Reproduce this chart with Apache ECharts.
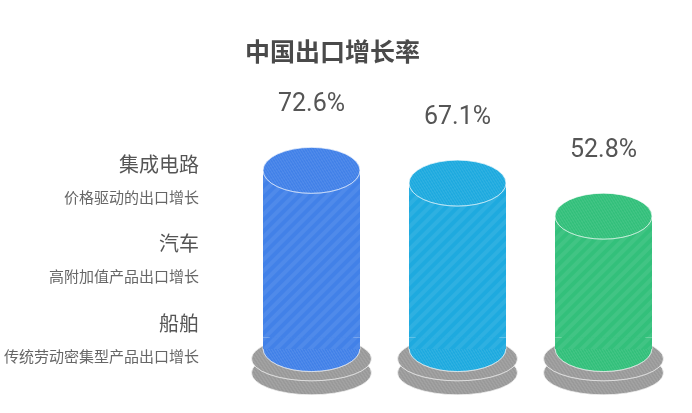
<!DOCTYPE html>
<html>
<head>
<meta charset="utf-8">
<script src="https://cdn.jsdelivr.net/npm/echarts@6/dist/echarts.min.js"></script>
<style>html,body{margin:0;padding:0;background:#fff}#c{width:692px;height:413px}</style>
</head>
<body>
<div id="c"></div>
<script>
const titleText = '中国出口增长率';
const categories = ['集成电路', '汽车', '船舶'];
const descriptions = ['价格驱动的出口增长', '高附加值产品出口增长', '传统劳动密集型产品出口增长'];
const values = [72.6, 67.1, 52.8];
const colors = ['#4281E8', '#1EAADF', '#33C07B'];

const BASE_EXT = -5; // visual extension of the cylinder body below zero
const decalStripe = { symbol: 'rect', symbolSize: 1, dashArrayX: [1, 0], dashArrayY: [3.5, 3.5], rotation: -Math.PI / 4, color: 'rgba(255,255,255,0.07)' };
const grayDecal = Object.assign({}, decalStripe, { color: 'rgba(255,255,255,0.09)' });

const chart = echarts.init(document.getElementById('c'), null, { renderer: 'canvas' });

function colored(arr) {
  return arr.map((v, i) => ({ value: v, itemStyle: { color: colors[i], decal: decalStripe } }));
}

const option = {
  animation: false,
  title: {
    text: titleText,
    left: 240, top: 34,
    textStyle: { fontSize: 25, fontWeight: 'bold', color: '#4a4a4a', fontFamily: 'Noto Sans CJK SC' }
  },
  grid: [
    { left: 238.5, right: 15.5, top: 117.7, bottom: 64 },
    { left: 207, width: 1, top: 140.75, bottom: 33.75 }
  ],
  xAxis: [
    { type: 'category', data: categories, gridIndex: 0, show: false },
    { type: 'value', gridIndex: 1, show: false }
  ],
  yAxis: [
    { type: 'value', gridIndex: 0, min: -5, max: 95, show: false },
    {
      type: 'category', gridIndex: 1, data: categories, inverse: true,
      axisLine: { show: false }, axisTick: { show: false }, splitLine: { show: false },
      axisLabel: {
        margin: 8,
        formatter: (v, i) => '{a|' + v + '}\n{b|' + descriptions[i] + '}',
        rich: {
          a: { fontSize: 20, lineHeight: 33, color: '#555', fontFamily: 'Noto Sans CJK SC', align: 'right' },
          b: { fontSize: 15, lineHeight: 33, color: '#666', fontFamily: 'Noto Sans CJK SC', align: 'right' }
        }
      }
    }
  ],
  series: [
    {
      type: 'pictorialBar', name: 'ringLow', symbol: 'circle', symbolSize: [120, 44],
      symbolPosition: 'start', symbolOffset: [0, 58], barGap: '-100%', z: 1,
      itemStyle: { color: '#999', borderColor: '#fff', borderWidth: 2, decal: grayDecal },
      data: values, silent: true
    },
    {
      type: 'pictorialBar', name: 'ringHigh', symbol: 'circle', symbolSize: [120, 44],
      symbolPosition: 'start', symbolOffset: [0, 44], barGap: '-100%', z: 2,
      itemStyle: { color: '#999', borderColor: '#fff', borderWidth: 2, decal: grayDecal },
      data: values, silent: true
    },
    {
      type: 'pictorialBar', name: 'bodyBottom', symbol: 'circle', symbolSize: [97, 46],
      symbolPosition: 'start', symbolOffset: [0, 35], barGap: '-100%', z: 3,
      itemStyle: { borderColor: '#fff', borderWidth: 2.5 },
      data: colored(values), silent: true
    },
    {
      type: 'bar', name: 'body', barWidth: 97, barGap: '-100%', z: 4,
      data: colored(values),
      label: {
        show: true, position: 'top', distance: 52,
        formatter: p => p.value + '%',
        fontSize: 25, color: '#555', fontFamily: 'Roboto'
      }
    },
    {
      type: 'bar', name: 'bodyExt', barWidth: 97, barGap: '-100%', z: 4,
      data: colored(values.map(() => BASE_EXT)), silent: true
    },
    {
      type: 'pictorialBar', name: 'top', symbol: 'circle', symbolSize: [97, 46],
      symbolPosition: 'end', symbolOffset: [0, -23], barGap: '-100%', z: 5,
      itemStyle: { borderColor: '#fff', borderWidth: 2.5 },
      data: colored(values), silent: true
    }
  ]
};
chart.setOption(option);
</script>
</body>
</html>
